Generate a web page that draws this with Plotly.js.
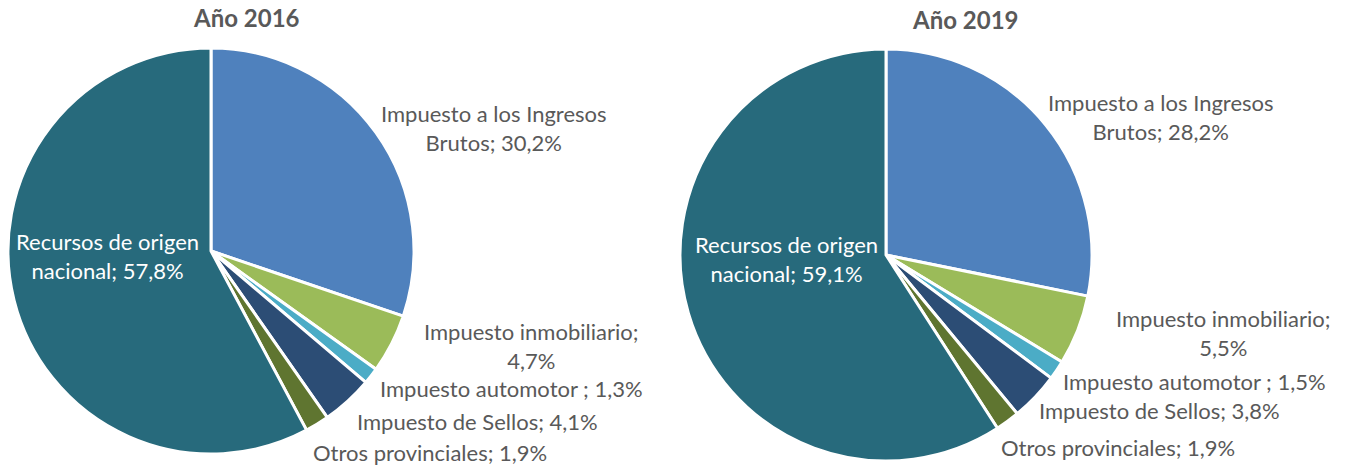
<!DOCTYPE html>
<html>
<head>
<meta charset="utf-8">
<script src="https://cdn.plot.ly/plotly-3.0.1.min.js"></script>
<style>
  html, body { margin: 0; padding: 0; background: #ffffff; }
  #chart { width: 1352px; height: 470px; }
</style>
</head>
<body>
<div id="chart"></div>
<script>
// ---------- DATA ----------
const categories = [
  "Impuesto a los Ingresos Brutos",
  "Impuesto inmobiliario;",
  "Impuesto automotor ;",
  "Impuesto de Sellos;",
  "Otros provinciales;",
  "Recursos de origen nacional;"
];
const years = ["Año 2016", "Año 2019"];
const values2016 = [30.2, 4.7, 1.3, 4.1, 1.9, 57.8];
const values2019 = [28.2, 5.5, 1.5, 3.8, 1.9, 59.1];

// ---------- STYLE ----------
const colors = ["#4F81BD", "#9BBB59", "#4BACC6", "#2C4D75", "#5F7530", "#276A7C"];
const FONT = "Lato, 'Open Sans', sans-serif";
const GRAY = "#595959";
const W = 1352, H = 470;

// label text: category name + value with comma decimal; line breaks per style
function fmt(v) { return v.toFixed(1).replace(".", ",") + "%"; }
function labelText(i, v) {
  const name = categories[i];
  if (i === 0) return "Impuesto a los Ingresos<br>Brutos; " + fmt(v);
  if (i === 1) return name + "<br>" + fmt(v);
  if (i === 5) return "Recursos de origen<br>nacional; " + fmt(v);
  const sep = name.endsWith(";") ? " " : "; ";
  return name + sep + fmt(v);
}

// pie geometry (pixels) and label anchor points (pixels)
const pies = [
  { vals: values2016, cx: 211, cy: 251, r: 203, title: [247, 18],
    labels: [[494, 128], [531, 346], [511, 388], [477, 421], [430, 452], [107, 256]] },
  { vals: values2019, cx: 886, cy: 255, r: 206, title: [965, 19],
    labels: [[1161, 117], [1223, 333], [1194, 381], [1159, 410], [1118, 447], [787, 259]] }
];

const traces = [];
const annotations = [];
pies.forEach((p, k) => {
  traces.push({
    type: "pie",
    values: p.vals,
    labels: categories,
    sort: false,
    direction: "clockwise",
    rotation: 0,
    textinfo: "none",
    hoverinfo: "label+percent",
    marker: { colors: colors, line: { color: "#ffffff", width: 3 } },
    domain: {
      x: [(p.cx - p.r) / W, (p.cx + p.r) / W],
      y: [(H - (p.cy + p.r)) / H, (H - (p.cy - p.r)) / H]
    },
    showlegend: false
  });
  annotations.push({
    text: "<b>" + years[k] + "</b>",
    x: p.title[0] / W, y: 1 - p.title[1] / H,
    xref: "paper", yref: "paper", xanchor: "center", yanchor: "middle",
    showarrow: false, font: { family: FONT, size: 24, color: GRAY }
  });
  p.vals.forEach((v, i) => {
    annotations.push({
      text: labelText(i, v),
      x: p.labels[i][0] / W, y: 1 - p.labels[i][1] / H,
      xref: "paper", yref: "paper", xanchor: "center", yanchor: "middle",
      align: "center", showarrow: false,
      font: { family: FONT, size: 22, color: i === 5 ? "#ffffff" : GRAY }
    });
  });
});

Plotly.newPlot("chart", traces, {
  width: W, height: H,
  margin: { l: 0, r: 0, t: 0, b: 0 },
  paper_bgcolor: "#ffffff",
  annotations: annotations
}, { staticPlot: true });
</script>
</body>
</html>
